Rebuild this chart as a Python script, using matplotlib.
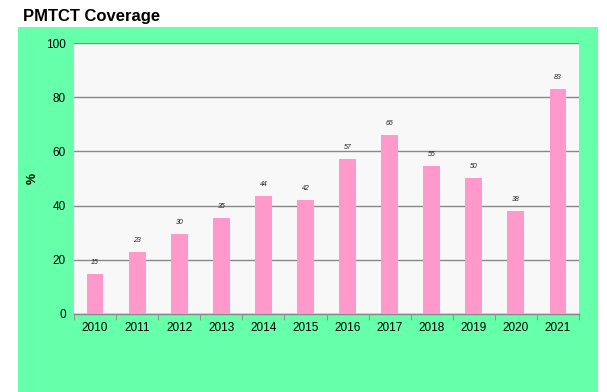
import matplotlib
matplotlib.use("Agg")
import matplotlib.pyplot as plt
import numpy as np

plt.rcParams['font.family'] = ['Liberation Sans', 'DejaVu Sans']

years = ["2010", "2011", "2012", "2013", "2014", "2015", "2016", "2017", "2018", "2019", "2020", "2021"]
coverage = [14.7, 22.8, 29.5, 35.3, 43.5, 42.2, 57.2, 66.0, 54.6, 50.2, 37.9, 83.0]
labels = ["15", "23", "30", "35", "44", "42", "57", "66", "55", "50", "38", "83"]
yticks = [0, 20, 40, 60, 80, 100]

W, H = 607, 392
fig = plt.figure(figsize=(W / 100, H / 100), dpi=100)
fig.patch.set_facecolor("white")

green = "#66FFAA"
bg = fig.add_axes([18 / W, 0, (598 - 18) / W, 1 - 27 / H], zorder=-1)
bg.set_facecolor(green)
bg.set_xticks([])
bg.set_yticks([])
for s in bg.spines.values():
    s.set_visible(False)

ax = fig.add_axes([74 / W, 1 - 314 / H, (579 - 74) / W, (314 - 43) / H], zorder=1)
ax.set_facecolor("#F8F8F8")

x = np.arange(len(years))
ax.bar(x, coverage, width=0.4, color="#FF99CC", zorder=3)
for xi, v, lab in zip(x, coverage, labels):
    ax.text(xi, v + 3, lab, ha="center", va="bottom", fontsize=5, style="italic",
            color="#222222")

ax.set_xlim(-0.5, len(years) - 0.5)
ax.set_ylim(0, 100)
ax.set_yticks(yticks)
ax.set_yticklabels([str(t) for t in yticks], fontsize=8.5)
ax.tick_params(axis="y", length=0, pad=6)
ax.yaxis.grid(True, color="#888888", linewidth=1, zorder=1)
ax.set_axisbelow(True)

ax.set_xticks(x)
ax.set_xticklabels(years, fontsize=8.5)
ax.tick_params(axis="x", which="major", length=0, pad=6)
ax.set_xticks(np.arange(-0.5, len(years)), minor=True)
ax.tick_params(axis="x", which="minor", length=4, color="#888888", direction="out")

for s in ["left", "right", "top"]:
    ax.spines[s].set_visible(False)
ax.spines["bottom"].set_color("#888888")
ax.spines["bottom"].set_linewidth(1)

fig.text(33 / W, 1 - 178 / H, "%", rotation=90, ha="center", va="center",
         fontsize=9, fontweight="bold")
fig.text(23 / W, 1 - 16 / H, "PMTCT Coverage", ha="left", va="center",
         fontsize=12, fontweight="bold")

fig.savefig("out.png", dpi=100, facecolor=fig.get_facecolor())
